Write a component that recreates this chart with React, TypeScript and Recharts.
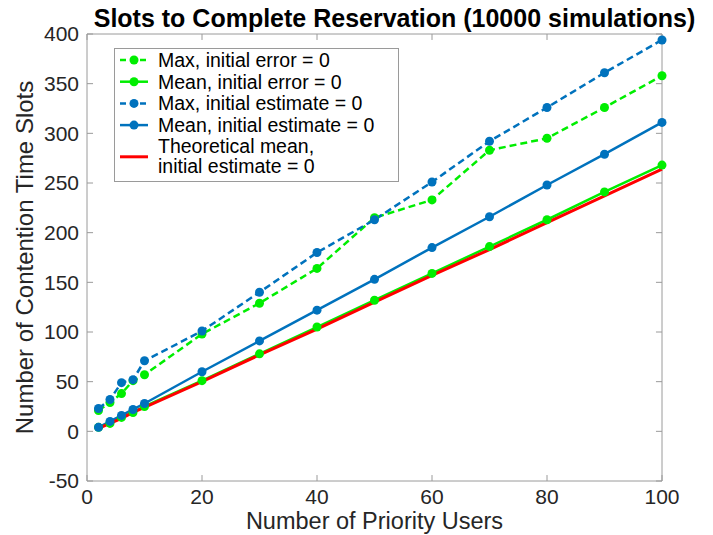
import { LineChart, Line, XAxis, YAxis, ReferenceLine } from "recharts"

// Number of priority users (x positions of every series)
const users = [2, 4, 6, 8, 10, 20, 30, 40, 50, 60, 70, 80, 90, 100]

// Slots to complete reservation
const maxInitError = [21, 29, 38, 51, 57, 98, 129, 164, 215, 233, 283, 295, 326, 358]
const meanInitError = [4, 8, 14, 19, 25, 51, 78, 105, 132, 159, 186, 213, 241, 268]
const maxInitEstimate = [23, 32, 49, 52, 71, 101, 140, 180, 213, 251, 292, 326, 361, 394]
const meanInitEstimate = [4, 10, 16, 22, 28, 60, 91, 122, 153, 185, 216, 248, 279, 311]
const theoreticalMean = [3, 8, 13, 19, 24, 50, 77, 103, 130, 157, 183, 210, 237, 264]

const xTicks = [0, 20, 40, 60, 80, 100]
const yTicks = [-50, 0, 50, 100, 150, 200, 250, 300, 350, 400]

const GREEN = "#00ee00"
const BLUE = "#0072bd"
const RED = "#ff0000"
const AXIS = "#9a9a9a"
const TEXT = "#262626"
const FONT = "'Liberation Sans', Arial, Helvetica, sans-serif"

const data = users.map((u, i) => ({
  users: u,
  maxErr: maxInitError[i],
  meanErr: meanInitError[i],
  maxEst: maxInitEstimate[i],
  meanEst: meanInitEstimate[i],
  theory: theoreticalMean[i],
}))

const legendItems = [
  { lines: ["Max, initial error = 0"], color: GREEN, dashed: true, dot: true },
  { lines: ["Mean, initial error = 0"], color: GREEN, dashed: false, dot: true },
  { lines: ["Max, initial estimate = 0"], color: BLUE, dashed: true, dot: true },
  { lines: ["Mean, initial estimate = 0"], color: BLUE, dashed: false, dot: true },
  { lines: ["Theoretical mean,", "initial estimate = 0"], color: RED, dashed: false, dot: false },
]

// legend drawn as a small svg box over the plot (MATLAB style, top-left)
function ChartLegend() {
  let y = 12
  const rows = legendItems.map((item, idx) => {
    const multi = item.lines.length > 1
    const mid = multi ? y + 10 : y
    const row = (
      <g key={idx}>
        <line
          x1={6}
          x2={34}
          y1={mid}
          y2={mid}
          stroke={item.color}
          strokeWidth={item.dot ? 2.5 : 3}
          strokeDasharray={item.dashed ? "6 4" : undefined}
        />
        {item.dot && <circle cx={20} cy={mid} r={4.5} fill={item.color} />}
        {item.lines.map((t, j) => (
          <text
            key={j}
            x={44}
            y={(multi ? y - 0.5 + j * 20 : y) + 7}
            fontSize={19.5}
            fill="#000"
            fontFamily={FONT}
          >
            {t}
          </text>
        ))}
      </g>
    )
    y += 21.7
    return row
  })
  return (
    <svg width={286} height={135} style={{ position: "absolute", left: 114, top: 48 }}>
      <rect x={0.5} y={0.5} width={284} height={133} fill="#fff" stroke={AXIS} />
      {rows}
    </svg>
  )
}

export default function App() {
  return (
    <div style={{ position: "absolute", left: 0, top: 0, width: 713, height: 535, background: "#fff", fontFamily: FONT }}>
      <LineChart
        width={713}
        height={535}
        data={data}
        margin={{ top: 34, right: 51, bottom: 0, left: 0 }}
      >
        <text
          x={394.5}
          y={27}
          textAnchor="middle"
          fontSize={25}
          fontWeight="bold"
          fill="#000"
          fontFamily={FONT}
        >
          Slots to Complete Reservation (10000 simulations)
        </text>
        <XAxis
          dataKey="users"
          type="number"
          domain={[0, 100]}
          ticks={xTicks}
          height={54}
          tickLine={false}
          axisLine={{ stroke: AXIS }}
          tick={{ fill: TEXT, fontSize: 21, fontFamily: FONT }}
          label={{
            content: ({ viewBox }: any) => (
              <text
                x={viewBox.x + viewBox.width / 2}
                y={viewBox.y + viewBox.height - 6}
                textAnchor="middle"
                fontSize={23.5}
                fill={TEXT}
                fontFamily={FONT}
              >
                Number of Priority Users
              </text>
            ),
          }}
        />
        <YAxis
          type="number"
          domain={[-50, 400]}
          ticks={yTicks}
          width={87}
          tickLine={false}
          axisLine={{ stroke: AXIS }}
          tick={{ fill: TEXT, fontSize: 21, fontFamily: FONT }}
          label={{
            content: ({ viewBox }: any) => {
              const cx = 33
              const cy = viewBox.y + viewBox.height / 2
              return (
                <text
                  x={cx}
                  y={cy}
                  transform={`rotate(-90, ${cx}, ${cy})`}
                  textAnchor="middle"
                  fontSize={24}
                  fill={TEXT}
                  fontFamily={FONT}
                >
                  Number of Contention Time Slots
                </text>
              )
            },
          }}
        />
        {/* box frame */}
        <ReferenceLine x={100} stroke={AXIS} />
        <ReferenceLine y={400} stroke={AXIS} />
        {/* inward ticks on all four sides */}
        {xTicks.map((t) => (
          <ReferenceLine key={`xb${t}`} segment={[{ x: t, y: -50 }, { x: t, y: -44 }]} stroke={AXIS} />
        ))}
        {xTicks.map((t) => (
          <ReferenceLine key={`xt${t}`} segment={[{ x: t, y: 400 }, { x: t, y: 394 }]} stroke={AXIS} />
        ))}
        {yTicks.map((t) => (
          <ReferenceLine key={`yl${t}`} segment={[{ x: 0, y: t }, { x: 1.05, y: t }]} stroke={AXIS} />
        ))}
        {yTicks.map((t) => (
          <ReferenceLine key={`yr${t}`} segment={[{ x: 100, y: t }, { x: 98.95, y: t }]} stroke={AXIS} />
        ))}
        <Line
          dataKey="maxErr"
          stroke={GREEN}
          strokeWidth={2.5}
          strokeDasharray="7 4"
          dot={{ r: 4.5, fill: GREEN, stroke: "none" }}
          isAnimationActive={false}
        />
        <Line
          dataKey="meanErr"
          stroke={GREEN}
          strokeWidth={2.5}
          dot={{ r: 4.5, fill: GREEN, stroke: "none" }}
          isAnimationActive={false}
        />
        <Line
          dataKey="maxEst"
          stroke={BLUE}
          strokeWidth={2.5}
          strokeDasharray="7 4"
          dot={{ r: 4.5, fill: BLUE, stroke: "none" }}
          isAnimationActive={false}
        />
        <Line
          dataKey="meanEst"
          stroke={BLUE}
          strokeWidth={2.5}
          dot={{ r: 4.5, fill: BLUE, stroke: "none" }}
          isAnimationActive={false}
        />
        <Line
          dataKey="theory"
          stroke={RED}
          strokeWidth={3}
          dot={false}
          isAnimationActive={false}
        />
      </LineChart>
      <ChartLegend />
    </div>
  )
}
